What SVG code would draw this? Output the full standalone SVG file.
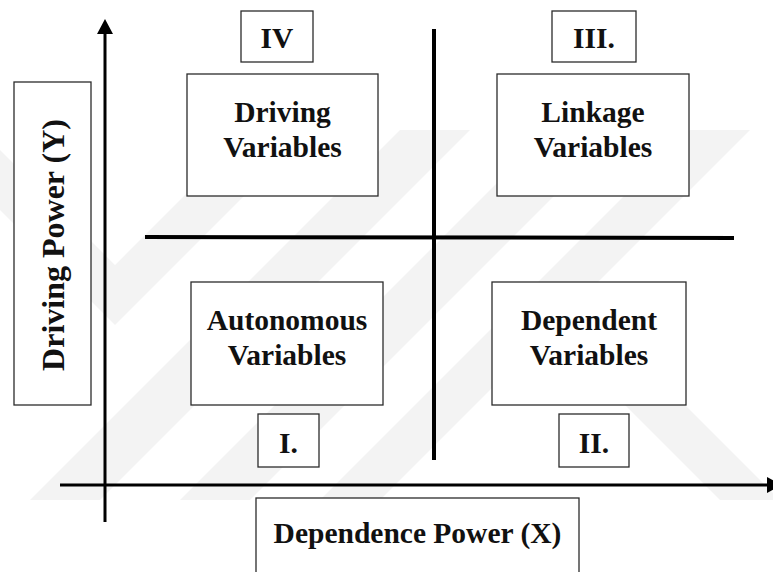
<svg xmlns="http://www.w3.org/2000/svg" width="773" height="572" viewBox="0 0 773 572">
  <defs>
    <style>
      .box { fill: #ffffff; stroke: #2b2b2b; stroke-width: 1.3; }
      .lbl { font-family: "Liberation Serif", "Times New Roman", serif; font-weight: bold; font-size: 29.5px; fill: #111111; text-anchor: middle; }
      .axis { stroke: #000000; stroke-width: 3; fill: none; }
      .divider { stroke: #000000; stroke-width: 4; fill: none; }
      .mark { fill: #f3f3f3; }
    </style>
    <marker id="arrow" viewBox="0 0 15 16" refX="0" refY="8" markerWidth="15" markerHeight="16" markerUnits="userSpaceOnUse" orient="auto">
      <path d="M0,0 L15,8 L0,16 z" fill="#000000"/>
    </marker>
    <clipPath id="band-clip">
      <rect x="0" y="130" width="773" height="370"/>
    </clipPath>
  </defs>

  <rect x="0" y="0" width="773" height="572" fill="#ffffff"/>

  <!-- background stripe mark -->
  <g id="backdrop" clip-path="url(#band-clip)">
    <polygon class="mark" points="0,150 0,210 115,325 440,0 380,0 115,265"/>
    <polygon class="mark" points="530,0 600,0 0,600 -70,600"/>
    <polygon class="mark" points="680,0 750,0 150,600 80,600"/>
    <polygon class="mark" points="820,0 880,0 280,600 220,600"/>
    <polygon class="mark" points="520,300 580,300 780,500 720,500"/>
  </g>

  <!-- axes and quadrant dividers -->
  <g id="connectors">
    <line class="axis" x1="105" y1="522" x2="105" y2="34" marker-end="url(#arrow)"/>
    <line class="axis" x1="60" y1="485" x2="767" y2="485" marker-end="url(#arrow)"/>
    <line class="divider" x1="145" y1="237" x2="734" y2="238"/>
    <line class="divider" x1="434" y1="29" x2="434" y2="460"/>
  </g>

  <g id="y-label">
    <rect class="box" x="14" y="82" width="77" height="323"/>
    <text class="lbl" style="font-size:32px" transform="translate(64,245) rotate(-90)" x="0" y="0">Driving Power (Y)</text>
  </g>

  <g id="x-label">
    <rect class="box" x="256" y="498" width="323" height="90"/>
    <text class="lbl" x="417.5" y="543">Dependence Power (X)</text>
  </g>

  <g id="quad-iv">
    <rect class="box" x="241" y="11" width="72" height="51"/>
    <text class="lbl" x="277" y="48">IV</text>
  </g>

  <g id="driving">
    <rect class="box" x="187" y="74" width="191" height="122"/>
    <text class="lbl" x="282.5" y="122">Driving</text>
    <text class="lbl" x="282.5" y="157">Variables</text>
  </g>

  <g id="quad-iii">
    <rect class="box" x="552" y="11" width="84" height="51"/>
    <text class="lbl" x="594" y="48">III.</text>
  </g>

  <g id="linkage">
    <rect class="box" x="497" y="74" width="192" height="122"/>
    <text class="lbl" x="593" y="122">Linkage</text>
    <text class="lbl" x="593" y="157">Variables</text>
  </g>

  <g id="autonomous">
    <rect class="box" x="191" y="282" width="192" height="123"/>
    <text class="lbl" x="287" y="330">Autonomous</text>
    <text class="lbl" x="287" y="365">Variables</text>
  </g>

  <g id="quad-i">
    <rect class="box" x="258" y="414" width="61" height="53"/>
    <text class="lbl" x="288.5" y="453">I.</text>
  </g>

  <g id="dependent">
    <rect class="box" x="492" y="282" width="194" height="123"/>
    <text class="lbl" x="589" y="330">Dependent</text>
    <text class="lbl" x="589" y="365">Variables</text>
  </g>

  <g id="quad-ii">
    <rect class="box" x="559" y="414" width="70" height="53"/>
    <text class="lbl" x="594" y="453">II.</text>
  </g>
</svg>
